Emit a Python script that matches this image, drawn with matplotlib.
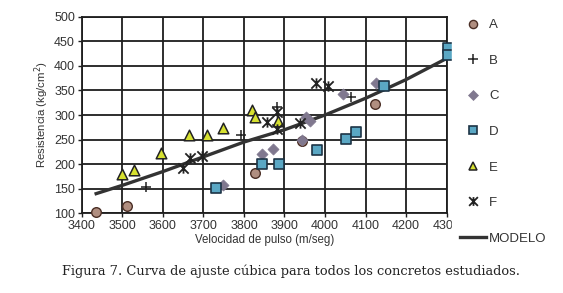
import matplotlib

matplotlib.use("Agg")
import matplotlib.pyplot as plt
from matplotlib.lines import Line2D
from matplotlib.path import Path

# readings from the reference chart
a_vel = [3435, 3510, 3828, 3942, 4123]
a_res = [103, 115, 183, 247, 323]

b_vel = [3558, 3792, 3881, 4065]
b_res = [153, 259, 316, 337]

c_vel = [3747, 3845, 3872, 3942, 3953, 3963, 4045, 4125]
c_res = [158, 221, 231, 250, 295, 288, 342, 366]

d_vel = [3731, 3845, 3886, 3981, 4053, 4077, 4146, 4303, 4303]
d_res = [151, 200, 200, 228, 252, 265, 360, 437, 422]

e_vel = [3500, 3528, 3594, 3665, 3709, 3747, 3821, 3827, 3883]
e_res = [180, 188, 223, 259, 259, 273, 310, 296, 288]

f_vel = [3649, 3667, 3697, 3856, 3881, 3881, 3938, 3978, 4008]
f_res = [192, 212, 217, 286, 271, 307, 283, 366, 359]

modelo_vel = [3435, 3500, 3600, 3700, 3800, 3900, 4000, 4100, 4200, 4300]
modelo_res = [140, 157, 185, 215, 245, 270, 300, 334, 372, 415]

x_ticks = [3400, 3500, 3600, 3700, 3800, 3900, 4000, 4100, 4200, 4300]
y_ticks = [100, 150, 200, 250, 300, 350, 400, 450, 500]

plt.rcParams["font.family"] = ["Liberation Sans", "DejaVu Sans"]

# excel-like star marker: an X with a vertical stroke
star = Path(
    [(-1, -1), (1, 1), (-1, 1), (1, -1), (0, -1), (0, 1)],
    [Path.MOVETO, Path.LINETO, Path.MOVETO, Path.LINETO, Path.MOVETO, Path.LINETO],
)

fig = plt.figure(figsize=(5.63, 2.93), dpi=100)
ax = fig.add_axes([0.1456, 0.272, 0.6475, 0.671])

ax.set_xlim(3400, 4300)
ax.set_ylim(100, 500)
ax.set_xticks(x_ticks)
ax.set_yticks(y_ticks)
ax.grid(True, color="#1e1e1e", linewidth=1.3)
ax.set_axisbelow(True)
for spine in ax.spines.values():
    spine.set_color("#1e1e1e")
    spine.set_linewidth(1.3)
ax.tick_params(labelsize=9, length=3, width=1.0, pad=2, colors="#1e1e1e",
               labelcolor="#333333")

ax.plot(modelo_vel, modelo_res, color="#333333", linewidth=2.4, zorder=2)

styles = {
    "A": dict(marker="o", s=48, facecolor="#b08e80", edgecolor="#4a2e25", linewidth=1.0),
    "B": dict(marker="+", s=60, color="#222222", linewidth=1.1),
    "C": dict(marker="D", s=32, facecolor="#80788f", edgecolor="#80788f", linewidth=0.5),
    "D": dict(marker="s", s=52, facecolor="#5aa7c4", edgecolor="#1c3345", linewidth=1.2),
    "E": dict(marker="^", s=58, facecolor="#d6e030", edgecolor="#222222", linewidth=1.1),
    "F": dict(marker=star, s=55, color="#222222", linewidth=1.3),
}
series = {
    "A": (a_vel, a_res),
    "B": (b_vel, b_res),
    "C": (c_vel, c_res),
    "D": (d_vel, d_res),
    "E": (e_vel, e_res),
    "F": (f_vel, f_res),
}
for name, (vel, res) in series.items():
    ax.scatter(vel, res, zorder=3, clip_on=False, **styles[name])

ax.set_xlabel("Velocidad de pulso (m/seg)", fontsize=8.3, labelpad=1, color="#333333")
ax.set_ylabel("Resistencia (kg/cm$^2$)", fontsize=8.2, labelpad=2, color="#333333")

handles = []
for name in series:
    st = dict(styles[name])
    size = st.pop("s")
    lw = st.pop("linewidth")
    if "color" in st:
        handles.append(Line2D([], [], linestyle="none", marker=st["marker"],
                              markersize=size ** 0.5 * 0.85, color=st["color"],
                              markeredgewidth=lw, label=name))
    else:
        handles.append(Line2D([], [], linestyle="none", marker=st["marker"],
                              markersize=size ** 0.5 * 0.85,
                              markerfacecolor=st["facecolor"],
                              markeredgecolor=st["edgecolor"],
                              markeredgewidth=lw, label=name))
handles.append(Line2D([], [], color="#333333", linewidth=2.4, label="MODELO"))

leg = fig.legend(handles=handles, loc="upper left",
                 bbox_to_anchor=(452 / 563, 1 - 11 / 293),
                 frameon=True, framealpha=1.0, fontsize=9.5, labelspacing=1.77,
                 handlelength=2.0, handletextpad=0.23, borderpad=0.6,
                 borderaxespad=0)
leg.get_frame().set_facecolor("white")
leg.get_frame().set_edgecolor("white")
leg.get_frame().set_boxstyle("square", pad=0)
for t in leg.get_texts():
    t.set_color("#333333")

fig.text(0.517, 1 - 271 / 293,
         "Figura 7. Curva de ajuste cúbica para todos los concretos estudiados.",
         ha="center", va="center", fontsize=9.35, family="DejaVu Serif",
         color="#222222")

fig.savefig("out.png", dpi=100, facecolor="white")
